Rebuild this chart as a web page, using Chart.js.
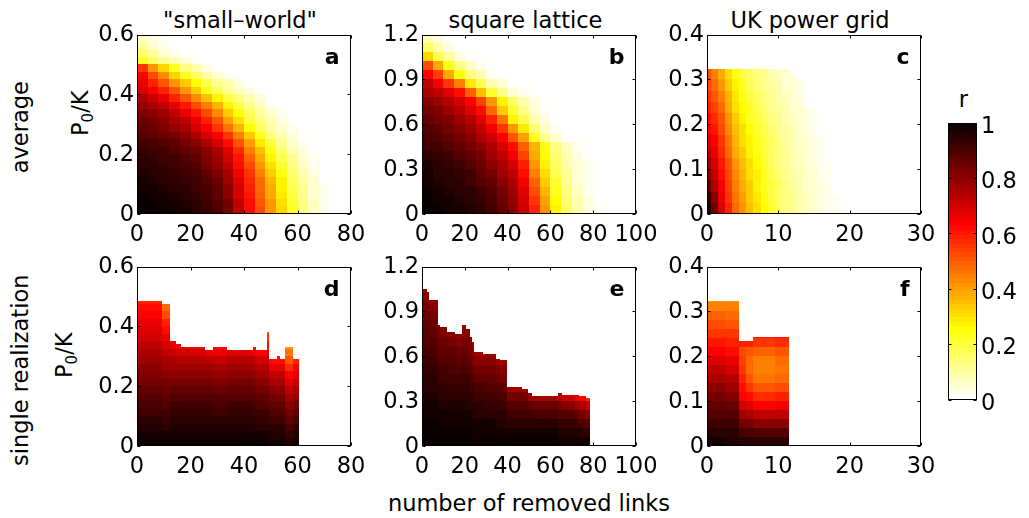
<!DOCTYPE html>
<html>
<head>
<meta charset="utf-8">
<title>r vs number of removed links</title>
<script src="https://cdn.jsdelivr.net/npm/chart.js@4.4.1/dist/chart.umd.min.js"></script>
<style>
  html, body { margin: 0; padding: 0; background: #fff; }
  body { width: 1029px; height: 518px; overflow: hidden; position: relative;
         font-family: "DejaVu Sans", sans-serif; color: #000; }
  canvas { position: absolute; }
  .t { position: absolute; font-size: 22.5px; line-height: 22.5px; height: 22.5px;
       white-space: nowrap; text-align: center; }
  .rot { width: 300px; transform: rotate(-90deg); }
  .t sub { font-size: 15px; line-height: 0; vertical-align: -5px; }
</style>
</head>
<body>
<div class="t" style="left:90px;top:9px;width:300px">"small–world"</div>
<div class="t" style="left:375.5px;top:9px;width:300px">square lattice</div>
<div class="t" style="left:660px;top:9px;width:300px">UK power grid</div>
<div class="t rot" style="left:-130.5px;top:115.75px">average</div>
<div class="t rot" style="left:-129.7px;top:358.75px">single realization</div>
<div class="t rot" style="left:-70px;top:101.75px">P<sub>0</sub>/K</div>
<div class="t rot" style="left:-85.75px;top:344.25px">P<sub>0</sub>/K</div>
<div class="t" style="left:329px;top:491.5px;width:400px">number of removed links</div>
<div class="t" style="left:943.5px;top:87.7px;width:40px">r</div>

<canvas id="pa" width="304" height="240" style="left:77px;top:18px"></canvas>
<canvas id="pb" width="304" height="240" style="left:362px;top:18px"></canvas>
<canvas id="pc" width="304" height="240" style="left:647px;top:18px"></canvas>
<canvas id="pd" width="304" height="240" style="left:77px;top:250px"></canvas>
<canvas id="pe" width="304" height="240" style="left:362px;top:250px"></canvas>
<canvas id="pf" width="304" height="240" style="left:647px;top:250px"></canvas>
<canvas id="cb" width="99" height="312" style="left:938px;top:105px"></canvas>

<script>
// ---- tick values / labels
var swTicksX = [0, 20, 40, 60, 80];
var swTicksY = [0, 0.2, 0.4, 0.6];
var swLabelsY = ['0', '0.2', '0.4', '0.6'];
var sqTicksX = [0, 20, 40, 60, 80, 100];
var sqTicksY = [0, 0.3, 0.6, 0.9, 1.2];
var sqLabelsY = ['0', '0.3', '0.6', '0.9', '1.2'];
var ukTicksX = [0, 10, 20, 30];
var ukTicksY = [0, 0.1, 0.2, 0.3, 0.4];
var ukLabelsY = ['0', '0.1', '0.2', '0.3', '0.4'];
var cbTicks = [0, 0.2, 0.4, 0.6, 0.8, 1];
var cbLabels = ['0', '0.2', '0.4', '0.6', '0.8', '1'];

// ---- (a) small-world, average: r x100, rows bottom -> top
var swAvgX = [0, 4, 8, 12, 16, 20, 24, 28, 32, 36, 40, 44, 48, 52, 56, 60, 64, 68, 72, 76, 80];
var swAvgY = [0, 0.025, 0.05, 0.075, 0.1, 0.125, 0.15, 0.175, 0.2, 0.225, 0.25, 0.275, 0.3,
              0.325, 0.35, 0.375, 0.4, 0.425, 0.45, 0.475, 0.5, 0.525, 0.55, 0.575, 0.6];
var swAvgRows = [
  [100, 99, 99, 98, 97, 95, 93, 90, 84, 73, 62, 52, 42, 32, 22, 14, 7, 3],
  [100, 99, 98, 97, 96, 94, 92, 89, 83, 72, 61, 51, 41, 31, 21, 13, 7, 3],
  [99, 98, 97, 96, 95, 93, 91, 87, 81, 70, 60, 49, 39, 29, 20, 12, 6, 2],
  [98, 97, 96, 95, 94, 92, 90, 86, 80, 69, 59, 48, 38, 28, 18, 11, 6, 2],
  [97, 96, 95, 94, 93, 91, 89, 85, 78, 68, 57, 47, 37, 27, 17, 10, 5, 1],
  [96, 95, 94, 93, 92, 90, 87, 82, 75, 65, 55, 44, 34, 24, 15, 9, 4, 1],
  [95, 94, 93, 92, 90, 88, 84, 79, 72, 62, 52, 41, 31, 21, 13, 7, 3],
  [94, 93, 92, 91, 89, 86, 82, 77, 70, 60, 49, 38, 28, 18, 11, 6, 2],
  [93, 92, 91, 89, 87, 84, 80, 75, 68, 57, 45, 35, 24, 15, 9, 4, 1],
  [91, 90, 88, 86, 84, 80, 76, 70, 62, 51, 40, 29, 19, 11, 6, 2],
  [89, 87, 85, 83, 80, 75, 70, 63, 55, 44, 33, 23, 14, 8, 4, 1],
  [87, 85, 82, 79, 75, 70, 63, 55, 46, 36, 26, 17, 10, 5, 2],
  [85, 83, 80, 76, 72, 66, 58, 50, 40, 30, 20, 13, 8, 4, 1],
  [82, 80, 77, 72, 67, 60, 52, 43, 34, 25, 16, 10, 5, 2],
  [79, 76, 72, 67, 60, 52, 44, 36, 27, 19, 12, 7, 3, 1],
  [75, 71, 66, 59, 51, 43, 35, 27, 20, 13, 8, 4, 1],
  [70, 64, 58, 51, 42, 33, 24, 16, 11, 7, 4, 1],
  [66, 59, 51, 42, 34, 26, 18, 12, 8, 4, 1],
  [63, 53, 43, 32, 23, 16, 10, 6, 3],
  [55, 42, 32, 22, 13, 8, 4, 1],
  [23, 17, 12, 8, 5, 2],
  [15, 10, 6, 3, 1],
  [10, 6, 3, 1],
  [7, 4, 2]
];

// ---- (b) square lattice, average
var sqAvgX = [0, 5, 10, 15, 20, 25, 30, 35, 40, 45, 50, 55, 60, 65, 70, 75, 80, 85, 90, 95, 100];
var sqAvgY = [0, 0.06, 0.12, 0.18, 0.24, 0.3, 0.36, 0.42, 0.48, 0.54, 0.6, 0.66, 0.72,
              0.78, 0.84, 0.9, 0.96, 1.02, 1.08, 1.14, 1.2];
var sqAvgRows = [
  [100, 99, 98, 97, 96, 94, 91, 86, 81, 71, 58, 42, 27, 16, 8, 4, 2],
  [99, 98, 97, 96, 95, 93, 90, 85, 79, 70, 55, 40, 25, 15, 8, 4, 1],
  [99, 97, 96, 95, 94, 91, 88, 83, 77, 68, 52, 37, 23, 14, 7, 3, 1],
  [98, 96, 95, 94, 92, 89, 86, 81, 75, 65, 49, 34, 21, 12, 6, 3, 1],
  [97, 95, 94, 93, 91, 87, 83, 78, 72, 62, 45, 31, 18, 11, 5, 2],
  [96, 95, 93, 91, 89, 85, 81, 76, 69, 58, 41, 28, 16, 9, 5, 2],
  [94, 93, 91, 89, 87, 83, 78, 73, 65, 54, 39, 26, 15, 8, 4, 1],
  [92, 91, 89, 87, 84, 80, 75, 69, 61, 49, 37, 24, 14, 7, 3],
  [90, 89, 87, 84, 81, 76, 71, 63, 51, 40, 22, 12, 5, 1],
  [88, 86, 84, 81, 77, 72, 65, 56, 42, 29, 15, 7, 3],
  [86, 84, 82, 78, 74, 68, 59, 46, 28, 18, 8, 4, 1],
  [84, 82, 78, 74, 68, 62, 47, 33, 21, 12, 5, 2],
  [81, 78, 74, 70, 64, 54, 41, 27, 16, 8, 4],
  [76, 73, 68, 61, 49, 35, 21, 12, 6, 2],
  [72, 65, 56, 44, 29, 18, 9, 5, 1],
  [63, 54, 38, 24, 14, 8, 3],
  [53, 38, 24, 14, 7, 3],
  [32, 18, 10, 4, 1],
  [16, 8, 4, 1],
  [8, 4, 1]
];

// ---- (c) UK power grid, average: one column per removed link, cells bottom -> top
var ukAvgX = [0, 0.5, 1.5, 2.5, 3.5, 4.5, 5.5, 6.5, 7.5, 8.5, 9.5, 10.5, 11.5, 12.5,
              13.5, 14.5, 15.5, 16.5, 17.5, 18.5];
var ukAvgTop = [0.3225, 0.3225, 0.3225, 0.3225, 0.3225, 0.3225, 0.3225, 0.3225, 0.3225,
                0.3225, 0.3225, 0.3225, 0.315, 0.30, 0.235, 0.235, 0.18, 0.117, 0.04];
var ukAvgStep = 0.025;
var ukAvgCols = [
  [96, 91, 86, 81, 77, 73, 69, 65, 62, 59, 56, 53, 50],
  [84, 80, 76, 72, 69, 66, 63, 60, 57, 54, 51, 48, 45],
  [70, 67, 65, 62, 60, 57, 55, 52, 50, 47, 44, 41, 38],
  [58, 56, 54, 52, 50, 48, 46, 43, 41, 38, 36, 33, 30],
  [48, 46, 45, 43, 41, 39, 37, 35, 33, 31, 29, 27, 24],
  [41, 40, 38, 37, 35, 33, 31, 30, 28, 26, 24, 22, 20],
  [35, 34, 33, 31, 30, 28, 27, 25, 23, 22, 20, 18, 16],
  [30, 29, 28, 27, 25, 24, 23, 21, 20, 18, 17, 15, 13],
  [25, 24, 23, 22, 21, 20, 19, 18, 16, 15, 14, 12, 11],
  [21, 20, 19, 18, 17, 17, 16, 15, 14, 12, 11, 10, 9],
  [17, 16, 16, 15, 14, 14, 13, 12, 11, 10, 9, 8, 7],
  [14, 13, 13, 12, 12, 11, 10, 10, 9, 8, 7, 6, 5],
  [11, 11, 10, 10, 9, 9, 8, 8, 7, 6, 6, 5, 4],
  [9, 9, 8, 8, 7, 7, 6, 6, 5, 5, 4, 4],
  [7, 7, 6, 6, 6, 5, 5, 4, 4, 4],
  [6, 5, 5, 5, 4, 4, 4, 3, 3, 3],
  [4, 4, 4, 3, 3, 3, 3, 2],
  [3, 3, 2, 2, 2],
  [2, 2]
];

// ---- (d) small-world, single realization
var swOneX = [0, 9.5, 12.5, 14.5, 16.5, 25.5, 28.5, 33.5, 43.5, 44.5, 48.5, 49.5, 52.5,
              53.5, 55.5, 58.5, 60.5];
var swOneTop = [0.484, 0.475, 0.352, 0.341, 0.331, 0.321, 0.331, 0.321, 0.331, 0.321,
                0.382, 0.291, 0.301, 0.291, 0.331, 0.291];
var swOneStep = 0.025;
var swOneCols = [
  [99, 97, 96, 94, 92, 90, 88, 86, 84, 82, 80, 77, 75, 72, 70, 68, 66, 64, 61, 58],
  [99, 97, 95, 93, 91, 89, 87, 85, 83, 80, 78, 75, 72, 69, 66, 62, 58, 53, 47],
  [99, 98, 96, 94, 93, 91, 89, 87, 84, 81, 78, 75, 71, 67, 63],
  [99, 98, 96, 94, 93, 91, 89, 87, 84, 81, 78, 74, 70, 65],
  [99, 98, 96, 94, 93, 91, 89, 87, 84, 81, 78, 74, 69, 65],
  [99, 98, 96, 94, 93, 91, 89, 87, 84, 81, 77, 73, 67],
  [99, 98, 96, 94, 92, 90, 88, 85, 82, 79, 75, 71, 66, 62],
  [99, 98, 96, 94, 93, 91, 89, 87, 84, 81, 78, 74, 68],
  [99, 98, 96, 94, 92, 90, 88, 85, 82, 79, 75, 71, 66, 61],
  [99, 97, 95, 93, 91, 89, 87, 84, 81, 78, 74, 69, 63],
  [98, 97, 95, 93, 91, 89, 86, 84, 81, 78, 75, 71, 67, 62, 56, 50],
  [98, 96, 94, 92, 89, 86, 83, 80, 76, 72, 67, 62],
  [98, 96, 94, 92, 89, 86, 83, 80, 76, 72, 67, 62, 58],
  [98, 96, 94, 92, 89, 86, 83, 80, 76, 72, 67, 62],
  [96, 93, 90, 87, 84, 80, 77, 73, 68, 63, 57, 51, 46, 42],
  [98, 96, 93, 90, 87, 83, 79, 75, 71, 67, 63, 59]
];

// ---- (e) square lattice, single realization
var sqOneX = [0, 2.5, 3.5, 7.5, 8.5, 11.5, 15.5, 18.5, 20.5, 22.5, 23.5, 24.5, 28.5, 34.5,
              36.5, 39.5, 46.5, 49.5, 51.5, 63.5, 65.5, 71.5, 73.5, 76.5, 78.5];
var sqOneTop = [1.047, 1.029, 0.976, 0.807, 0.796, 0.762, 0.751, 0.811, 0.784, 0.729, 0.696,
                0.627, 0.613, 0.582, 0.573, 0.393, 0.382, 0.351, 0.333, 0.351, 0.340, 0.344,
                0.333, 0.322];
var sqOneStep = 0.06;
var sqOneCols = [
  [100, 99, 99, 98, 97, 96, 95, 94, 93, 92, 90, 89, 88, 86, 85, 83, 81, 79],
  [100, 99, 99, 98, 97, 96, 95, 94, 93, 92, 90, 89, 88, 86, 85, 83, 81, 79],
  [100, 99, 99, 98, 97, 96, 95, 94, 93, 91, 90, 88, 87, 85, 83, 81, 79],
  [100, 99, 98, 97, 96, 95, 94, 92, 91, 89, 87, 85, 83, 80],
  [100, 99, 98, 97, 96, 95, 94, 92, 91, 89, 87, 85, 82, 80],
  [100, 99, 98, 97, 96, 95, 93, 92, 90, 88, 86, 83, 80],
  [100, 99, 98, 97, 96, 94, 93, 91, 89, 87, 85, 82, 79],
  [100, 99, 98, 97, 96, 95, 93, 92, 90, 88, 86, 84, 81, 78],
  [100, 99, 98, 97, 96, 94, 93, 91, 89, 87, 85, 83, 80, 78],
  [100, 99, 98, 97, 95, 94, 92, 90, 88, 86, 83, 80, 78],
  [100, 99, 98, 96, 95, 93, 91, 89, 87, 84, 81, 78],
  [99, 98, 97, 95, 94, 92, 90, 87, 84, 81, 78],
  [99, 98, 97, 95, 93, 91, 89, 86, 83, 80, 77],
  [99, 98, 96, 95, 93, 91, 88, 85, 82, 78],
  [99, 98, 96, 94, 92, 90, 87, 84, 81, 77],
  [99, 97, 95, 92, 89, 84, 78],
  [99, 97, 95, 92, 88, 83, 77],
  [99, 97, 94, 91, 86, 79],
  [99, 97, 94, 90, 85, 78],
  [98, 96, 93, 89, 83, 75],
  [98, 96, 93, 88, 81, 71],
  [98, 96, 92, 86, 78, 67],
  [98, 95, 90, 84, 75, 63],
  [97, 93, 88, 81, 71, 58]
];

// ---- (f) UK power grid, single realization
var ukOneX = [0, 2.5, 4.5, 5.5, 6.5, 9.5, 11.5];
var ukOneTop = [0.324, 0.324, 0.234, 0.234, 0.242, 0.242];
var ukOneStep = 0.02;
var ukOneCols = [
  [97, 95, 92, 89, 86, 83, 80, 76, 72, 68, 64, 60, 56, 52, 49, 45, 42],
  [96, 94, 91, 88, 85, 82, 78, 74, 70, 66, 62, 58, 55, 51, 48, 44, 41],
  [95, 90, 84, 77, 70, 64, 61, 59, 56, 54, 52, 58],
  [95, 90, 84, 76, 68, 61, 55, 51, 48, 47, 50, 58],
  [94, 88, 80, 72, 64, 57, 51, 46, 44, 45, 49, 56, 60],
  [94, 89, 81, 73, 65, 58, 52, 48, 46, 47, 51, 57, 62]
];

Chart.defaults.font.family = '"DejaVu Sans", sans-serif';
Chart.defaults.color = '#000';
var tickFont = { family: '"DejaVu Sans", sans-serif', size: 22.5 };

// flipped MATLAB "hot", 64 levels: 0 -> white, 1 -> black
function hot(v) {
  var k = Math.min(63, Math.max(0, Math.floor(v * 64)));
  var i = 64 - k;
  var c = function (t) { return Math.round(255 * Math.min(1, Math.max(0, t))); };
  return 'rgb(' + c(i / 24) + ',' + c((i - 24) / 24) + ',' + c((i - 48) / 16) + ')';
}

function gridCells(xs, ys, rows) {
  var out = [];
  rows.forEach(function (row, j) {
    row.forEach(function (v, i) {
      if (v > 0) out.push({ x0: xs[i], x1: xs[i + 1], y0: ys[j], y1: ys[j + 1], v: v / 100 });
    });
  });
  return out;
}

function columnCells(xs, tops, step, cols) {
  var out = [];
  cols.forEach(function (col, i) {
    col.forEach(function (v, j) {
      var y0 = j * step, y1 = Math.min((j + 1) * step, tops[i]);
      if (y1 > y0 && v > 0) out.push({ x0: xs[i], x1: xs[i + 1], y0: y0, y1: y1, v: v / 100 });
    });
  });
  return out;
}

// draws the cells, the box with inner ticks and the panel letter
function framePlugin(cells, letter, xTicksOn) {
  return {
    id: 'frame',
    beforeDatasetsDraw: function (chart) {
      var ctx = chart.ctx, a = chart.chartArea, x = chart.scales.x, y = chart.scales.y;
      ctx.save();
      ctx.beginPath();
      ctx.rect(a.left, a.top, a.right - a.left, a.bottom - a.top);
      ctx.clip();
      cells.forEach(function (c) {
        var px0 = Math.round(x.getPixelForValue(c.x0)), px1 = Math.round(x.getPixelForValue(c.x1));
        var py0 = Math.round(y.getPixelForValue(c.y0)), py1 = Math.round(y.getPixelForValue(c.y1));
        ctx.fillStyle = hot(c.v);
        ctx.fillRect(px0, py1, px1 - px0, py0 - py1);
      });
      ctx.restore();
    },
    afterDraw: function (chart) {
      var ctx = chart.ctx, a = chart.chartArea, x = chart.scales.x, y = chart.scales.y;
      var L = Math.round(a.left) + 0.5, R = Math.round(a.right) - 0.5;
      var T = Math.round(a.top) + 0.5, B = Math.round(a.bottom) - 0.5;
      ctx.save();
      ctx.strokeStyle = '#000';
      ctx.lineWidth = 1;
      ctx.strokeRect(L, T, R - L, B - T);
      ctx.beginPath();
      if (xTicksOn) {
        x.ticks.forEach(function (t) {
          var px = Math.round(x.getPixelForValue(t.value)) + 0.5;
          ctx.moveTo(px, B); ctx.lineTo(px, B - 3);
          ctx.moveTo(px, T); ctx.lineTo(px, T + 3);
        });
      }
      y.ticks.forEach(function (t) {
        var py = Math.round(y.getPixelForValue(t.value)) + 0.5;
        ctx.moveTo(L, py); ctx.lineTo(L + 3, py);
        ctx.moveTo(R, py); ctx.lineTo(R - 3, py);
      });
      ctx.stroke();
      if (letter) {
        ctx.font = 'bold 22px "DejaVu Sans"';
        ctx.fillStyle = '#000';
        ctx.textAlign = 'right';
        ctx.textBaseline = 'alphabetic';
        ctx.fillText(letter, a.right - 11.5, a.top + 29);
      }
      ctx.restore();
    }
  };
}

function makePanel(id, xMax, yMax, xTicks, yTicks, yLabels, letter, cells) {
  return new Chart(document.getElementById(id), {
    type: 'scatter',
    data: { datasets: [] },
    options: {
      responsive: false,
      animation: false,
      events: [],
      layout: { padding: { top: 16, right: 30, left: 0, bottom: 0 } },
      plugins: { legend: { display: false }, tooltip: { enabled: false } },
      scales: {
        x: {
          type: 'linear', min: 0, max: xMax,
          grid: { display: false, drawTicks: false },
          border: { display: false },
          afterBuildTicks: function (s) { s.ticks = xTicks.map(function (v) { return { value: v }; }); },
          afterFit: function (s) { s.height = 44; },
          ticks: { font: tickFont, color: '#000', padding: 8, maxRotation: 0, minRotation: 0,
                   autoSkip: false, callback: function (v, i) { return String(xTicks[i]); } }
        },
        y: {
          type: 'linear', min: 0, max: yMax,
          grid: { display: false, drawTicks: false },
          border: { display: false },
          afterBuildTicks: function (s) { s.ticks = yTicks.map(function (v) { return { value: v }; }); },
          afterFit: function (s) { s.width = 60; },
          ticks: { font: tickFont, color: '#000', padding: 3, labelOffset: 1, autoSkip: false,
                   callback: function (v, i) { return yLabels[i]; } }
        }
      }
    },
    plugins: [framePlugin(cells, letter, true)]
  });
}

makePanel('pa', 80, 0.6, swTicksX, swTicksY, swLabelsY, 'a', gridCells(swAvgX, swAvgY, swAvgRows));
makePanel('pb', 100, 1.2, sqTicksX, sqTicksY, sqLabelsY, 'b', gridCells(sqAvgX, sqAvgY, sqAvgRows));
makePanel('pc', 30, 0.4, ukTicksX, ukTicksY, ukLabelsY, 'c', columnCells(ukAvgX, ukAvgTop, ukAvgStep, ukAvgCols));
makePanel('pd', 80, 0.6, swTicksX, swTicksY, swLabelsY, 'd', columnCells(swOneX, swOneTop, swOneStep, swOneCols));
makePanel('pe', 100, 1.2, sqTicksX, sqTicksY, sqLabelsY, 'e', columnCells(sqOneX, sqOneTop, sqOneStep, sqOneCols));
makePanel('pf', 30, 0.4, ukTicksX, ukTicksY, ukLabelsY, 'f', columnCells(ukOneX, ukOneTop, ukOneStep, ukOneCols));

// colour bar: the 64 colormap levels
var cbCells = [];
for (var k = 0; k < 64; k++) {
  cbCells.push({ x0: 0, x1: 1, y0: k / 64, y1: (k + 1) / 64, v: (k + 0.5) / 64 });
}
new Chart(document.getElementById('cb'), {
  type: 'scatter',
  data: { datasets: [] },
  options: {
    responsive: false,
    animation: false,
    events: [],
    layout: { padding: { top: 16, right: 0, left: 10, bottom: 16 } },
    plugins: { legend: { display: false }, tooltip: { enabled: false } },
    scales: {
      x: { type: 'linear', min: 0, max: 1, display: false },
      y: {
        type: 'linear', position: 'right', min: 0, max: 1,
        grid: { display: false, drawTicks: false },
        border: { display: false },
        afterBuildTicks: function (s) { s.ticks = cbTicks.map(function (v) { return { value: v }; }); },
        afterFit: function (s) { s.width = 60; },
        ticks: { font: tickFont, color: '#000', padding: 4, labelOffset: 4.5, autoSkip: false,
                 callback: function (v, i) { return cbLabels[i]; } }
      }
    }
  },
  plugins: [framePlugin(cbCells, null, false)]
});
</script>
</body>
</html>
